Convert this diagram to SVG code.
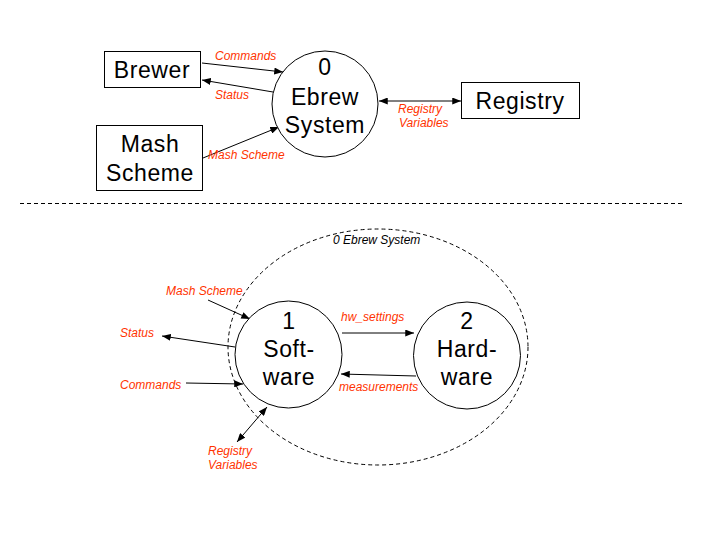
<svg xmlns="http://www.w3.org/2000/svg" width="720" height="540" viewBox="0 0 720 540">
<defs>
<style>
.box{fill:#fff;stroke:#000;stroke-width:1}
.proc{fill:#fff;stroke:#000;stroke-width:1}
.big{font-family:"Liberation Sans",Arial,sans-serif;font-size:23px;letter-spacing:0.6px;fill:#000;text-anchor:middle}
.lbl{font-family:"Liberation Sans",Arial,sans-serif;font-size:12px;font-style:italic;fill:#ff3300}
.cap{font-family:"Liberation Sans",Arial,sans-serif;font-size:12px;font-style:italic;fill:#000}
.flow{fill:none;stroke:#000;stroke-width:1}
.dash{fill:none;stroke:#000;stroke-width:1;stroke-dasharray:4,3}
</style>
<marker id="ah" viewBox="0 0 10 8" refX="10" refY="4" markerWidth="9" markerHeight="7" markerUnits="userSpaceOnUse" orient="auto">
<path d="M0,0 L10,4 L0,8 Z" fill="#000"/>
</marker>
<marker id="as" viewBox="0 0 10 8" refX="0" refY="4" markerWidth="9" markerHeight="7" markerUnits="userSpaceOnUse" orient="auto">
<path d="M10,0 L0,4 L10,8 Z" fill="#000"/>
</marker>
</defs>
<rect width="720" height="540" fill="#fff"/>

<g id="connectors">
<line class="flow" x1="202" y1="63" x2="283" y2="72" marker-end="url(#ah)"/>
<line class="flow" x1="273" y1="92" x2="202" y2="80" marker-end="url(#ah)"/>
<line class="flow" x1="203" y1="158" x2="279" y2="127" marker-end="url(#ah)"/>
<line class="flow" x1="379" y1="101" x2="461" y2="101" marker-start="url(#as)" marker-end="url(#ah)"/>
<line class="flow" x1="342" y1="333" x2="414" y2="333" marker-end="url(#ah)"/>
<line class="flow" x1="416" y1="376" x2="341" y2="374" marker-end="url(#ah)"/>
<line class="flow" x1="208" y1="300" x2="250" y2="319" marker-end="url(#ah)"/>
<line class="flow" x1="235" y1="347" x2="162" y2="336" marker-end="url(#ah)"/>
<line class="flow" x1="186" y1="383" x2="243" y2="384" marker-end="url(#ah)"/>
<line class="flow" x1="237" y1="442" x2="267" y2="407" marker-start="url(#as)" marker-end="url(#ah)"/>
</g>

<g id="flow-labels">
<text class="lbl" x="215" y="60">Commands</text>
<text class="lbl" x="215" y="99">Status</text>
<text class="lbl" x="208" y="159">Mash Scheme</text>
<text class="lbl" x="398" y="113">Registry</text>
<text class="lbl" x="399" y="127">Variables</text>
<text class="lbl" x="341" y="321">hw_settings</text>
<text class="lbl" x="339" y="391">measurements</text>
<text class="lbl" x="166" y="295">Mash Scheme</text>
<text class="lbl" x="120" y="337">Status</text>
<text class="lbl" x="120" y="389">Commands</text>
<text class="lbl" x="208" y="455">Registry</text>
<text class="lbl" x="208" y="469">Variables</text>
</g>

<g id="brewer">
<rect class="box" x="104.500" y="51.500" width="96" height="36"/>
<text class="big" x="152" y="78">Brewer</text>
</g>
<g id="mash-scheme">
<rect class="box" x="96.500" y="125.500" width="106" height="65"/>
<text class="big" x="150" y="152">Mash</text>
<text class="big" x="150" y="181">Scheme</text>
</g>
<g id="ebrew-system">
<circle class="proc" cx="325" cy="104" r="53"/>
<text class="big" x="325" y="75">0</text>
<text class="big" x="325" y="105">Ebrew</text>
<text class="big" x="325" y="133">System</text>
</g>
<g id="registry">
<rect class="box" x="461.500" y="82.500" width="118" height="36"/>
<text class="big" x="520" y="109">Registry</text>
</g>

<line id="separator" class="dash" x1="20" y1="203.500" x2="683" y2="203.500"/>

<g id="system-boundary">
<ellipse class="dash" cx="378" cy="347" rx="150" ry="118"/>
<text class="cap" x="333" y="244">0 Ebrew System</text>
</g>
<g id="software">
<circle class="proc" cx="288.500" cy="354.500" r="53.500"/>
<text class="big" x="289" y="329">1</text>
<text class="big" x="289" y="357">Soft-</text>
<text class="big" x="289" y="385">ware</text>
</g>
<g id="hardware">
<circle class="proc" cx="467" cy="355.500" r="53.500"/>
<text class="big" x="467" y="329">2</text>
<text class="big" x="467" y="357">Hard-</text>
<text class="big" x="467" y="385">ware</text>
</g>
</svg>
